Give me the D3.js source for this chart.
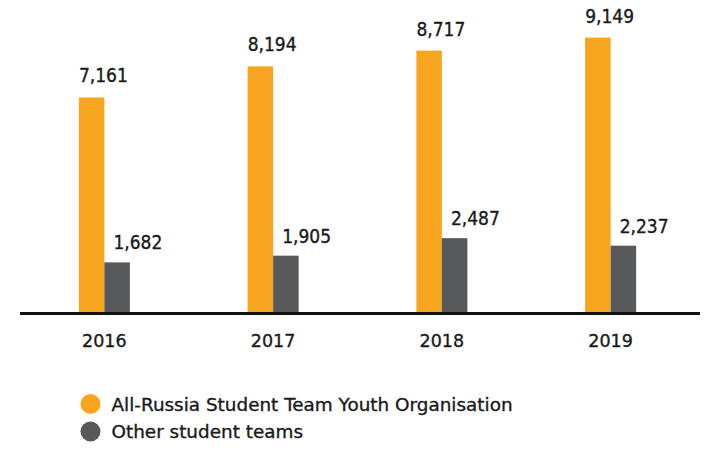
<!DOCTYPE html>
<html>
<head>
<meta charset="utf-8">
<script src="https://d3js.org/d3.v7.min.js"></script>
<style>
  body { margin: 0; background: #fff; }
  text { font-family: "DejaVu Sans Condensed", "DejaVu Sans", sans-serif; fill: #1a1a1a; stroke: #1a1a1a; stroke-width: 0.35; }
</style>
</head>
<body>
<div id="chart"></div>
<script>
const years = ["2016", "2017", "2018", "2019"];
const seriesNames = ["All-Russia Student Team Youth Organisation", "Other student teams"];
const rsoValues = [7161, 8194, 8717, 9149];
const otherValues = [1682, 1905, 2487, 2237];
const colors = ["#f7a51e", "#58595b"];

const width = 720, height = 467;
const svg = d3.select("#chart").append("svg")
    .attr("width", width)
    .attr("height", height);

const x = d3.scaleBand().domain(years).range([20, 695]);
const barW = 25.5;
const y = d3.scaleLinear().domain([0, 10000]).range([313, 12]);
const fmt = d3.format(",");

const series = [rsoValues, otherValues];

series.forEach((vals, s) => {
    const g = svg.append("g");
    g.selectAll("rect")
        .data(vals)
        .join("rect")
        .attr("x", (d, i) => x(years[i]) + x.bandwidth() / 2 - barW + s * barW)
        .attr("width", barW)
        .attr("y", d => y(d))
        .attr("height", d => y(0) - y(d))
        .attr("fill", colors[s]);
    g.selectAll("text")
        .data(vals)
        .join("text")
        .attr("x", (d, i) => x(years[i]) + x.bandwidth() / 2 - barW + s * barW + (s ? 9 : 0))
        .attr("y", d => y(d) - (s ? 13 : 15))
        .attr("font-size", 19)
        .text(d => fmt(d));
});

// baseline
svg.append("line")
    .attr("x1", 20).attr("x2", 700)
    .attr("y1", 313.5).attr("y2", 313.5)
    .attr("stroke", "#111")
    .attr("stroke-width", 3);

// year labels
svg.append("g").selectAll("text")
    .data(years)
    .join("text")
    .attr("x", d => x(d) + x.bandwidth() / 2)
    .attr("y", 346.5)
    .attr("text-anchor", "middle")
    .style("font-family", "'DejaVu Sans', sans-serif")
    .attr("font-size", 17.5)
    .text(d => d);

// legend
const legend = svg.append("g").selectAll("g")
    .data(seriesNames)
    .join("g")
    .attr("transform", (d, i) => `translate(90.5, ${404 + i * 27.5})`);
legend.append("circle")
    .attr("r", 10)
    .attr("fill", (d, i) => colors[i]);
legend.append("text")
    .attr("x", 21)
    .attr("y", 6.5)
    .style("font-family", "'DejaVu Sans', sans-serif")
    .attr("font-size", 18.4)
    .text(d => d);
</script>
</body>
</html>
